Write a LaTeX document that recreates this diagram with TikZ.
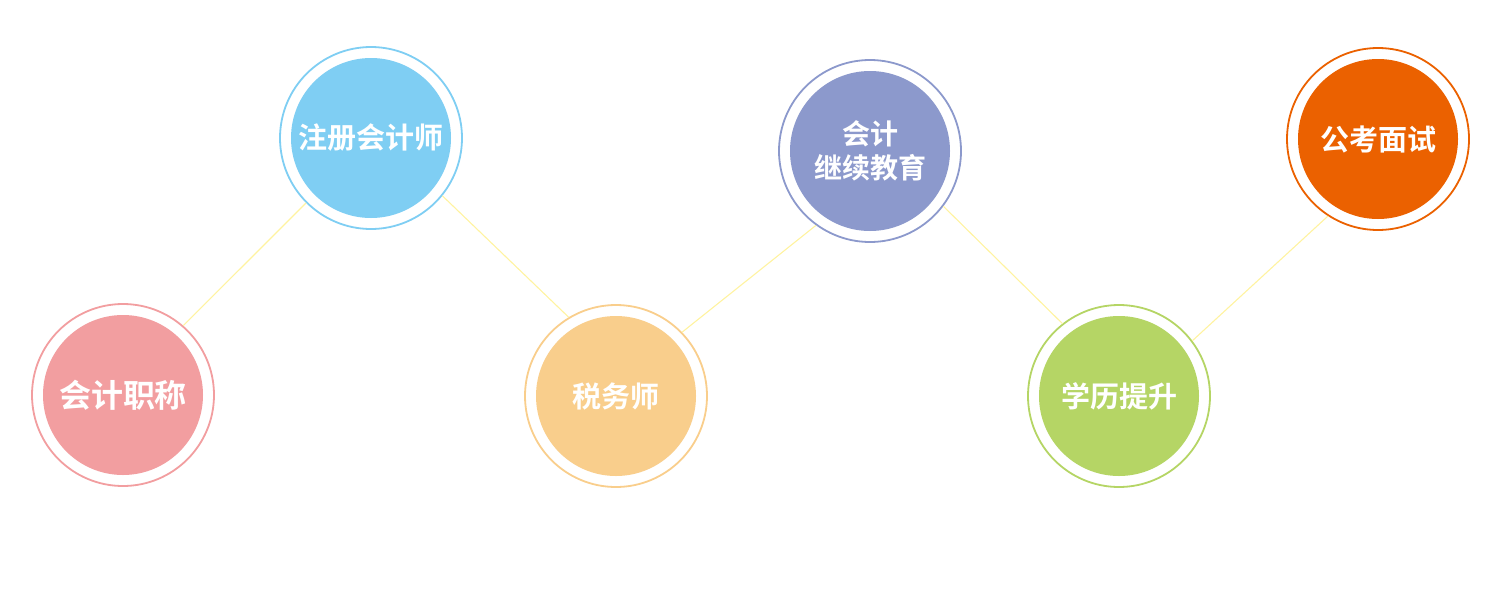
\documentclass[tikz,border=0pt]{standalone}
\usepackage{fontspec}
\newfontfamily\cjk{Noto Sans CJK SC Bold}
\definecolor{cpink}{HTML}{F29EA0}
\definecolor{cblue}{HTML}{7FCEF3}
\definecolor{corange}{HTML}{F9CE8C}
\definecolor{cviolet}{HTML}{8C99CC}
\definecolor{cgreen}{HTML}{B5D565}
\definecolor{cred}{HTML}{EB6100}
\definecolor{clink}{HTML}{FFF3A0}
\tikzset{
  ring/.style={circle, draw=#1, line width=1.8pt, minimum size=182pt, inner sep=0pt, fill=white},
  disc/.style={circle, fill=#1, minimum size=160pt, inner sep=0pt, text=white, align=center, font=\cjk\fontsize{29}{34}\selectfont},
  link/.style={draw=clink, line width=1.1pt}
}
\begin{document}
\begin{tikzpicture}[x=1pt,y=-1pt]
\useasboundingbox (0,0) rectangle (1500,600);
\node[ring=cpink] (r1) at (123,395) {};
\node[ring=cblue] (r2) at (371,138) {};
\node[ring=corange] (r3) at (616,396) {};
\node[ring=cviolet] (r4) at (870,151) {};
\node[ring=cgreen] (r5) at (1119,396) {};
\node[ring=cred] (r6) at (1378,139) {};
\draw[link] (r1.49) -- (r2.225);
\draw[link] (r2.-39) -- (r3.121);
\draw[link] (r3.44) -- (r4.234);
\draw[link] (r4.-37) -- (r5.128);
\draw[link] (r5.37) -- (r6.237);
\node[disc=cpink, font=\cjk\fontsize{32}{36}\selectfont] (d1) at (r1) {会计职称};
\node[disc=cblue] (d2) at (r2) {注册会计师};
\node[disc=corange] (d3) at (r3) {税务师};
\node[disc=cviolet, font=\cjk\fontsize{28}{34}\selectfont] (d4) at (r4) {会计\\继续教育};
\node[disc=cgreen] (d5) at (r5) {学历提升};
\node[disc=cred] (d6) at (r6) {公考面试};
\end{tikzpicture}
\end{document}
